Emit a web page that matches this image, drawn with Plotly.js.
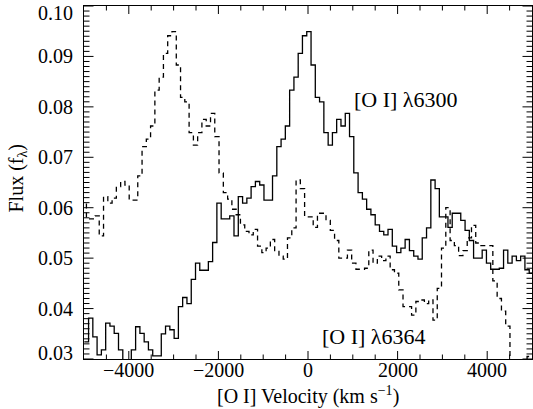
<!DOCTYPE html>
<html>
<head>
<meta charset="utf-8">
<script src="https://cdn.plot.ly/plotly-3.0.1.min.js"></script>
<style>
  html, body { margin: 0; padding: 0; background: #fff; }
  #plot { width: 533px; height: 409px; }
</style>
</head>
<body>
<div id="plot"></div>
<script>
// Left edges of the spectral bins, in km/s relative to [O I] 6300.
const binEdgeVelocity = [
  -4994, -4898, -4803, -4708, -4612, -4516, -4421, -4326, -4230, -4134,
  -4039, -3944, -3848, -3752, -3657, -3562, -3466, -3370, -3275, -3180,
  -3084, -2988, -2893, -2798, -2702, -2606, -2511, -2416, -2320, -2224,
  -2129, -2034, -1938, -1842, -1747, -1652, -1556, -1460, -1365, -1270,
  -1174, -1078, -983, -888, -792, -696, -601, -506, -410, -314,
  -219, -124, -28, 68, 163, 258, 354, 450, 545, 640,
  736, 832, 927, 1022, 1118, 1214, 1309, 1404, 1500, 1596,
  1691, 1786, 1882, 1978, 2073, 2168, 2264, 2360, 2455, 2550,
  2646, 2742, 2837, 2932, 3028, 3124, 3219, 3314, 3410, 3506,
  3601, 3696, 3792, 3888, 3983, 4078, 4174, 4270, 4365, 4460,
  4556, 4652, 4747, 4842, 4938, 5034, 5129, 5224, 5320, 5416,
  5511, 5606, 5702, 5798, 5893, 5988, 6084, 6180, 6275, 6370,
  6466, 6562, 6657, 6752, 6848, 6944, 7039, 7134, 7230, 7326,
  7421, 7516, 7612, 7708, 7803, 7898, 7994
];
const binEndVelocity = 8090;

// Flux density f_lambda in each bin.
const flux = [
  0.0334, 0.0381, 0.0344, 0.0308, 0.0318, 0.0371, 0.0365, 0.0351, 0.0318, 0.0290,
  0.0292, 0.0318, 0.0364, 0.0351, 0.0334, 0.0318, 0.0306, 0.0306, 0.0350, 0.0365,
  0.0358, 0.0341, 0.0404, 0.0422, 0.0410, 0.0458, 0.0490, 0.0476, 0.0476, 0.0493,
  0.0531, 0.0609, 0.0578, 0.0578, 0.0584, 0.0544, 0.0622, 0.0609, 0.0619, 0.0642,
  0.0652, 0.0645, 0.0615, 0.0615, 0.0663, 0.0721, 0.0736, 0.0762, 0.0833, 0.0859,
  0.0906, 0.0941, 0.0949, 0.0883, 0.0819, 0.0810, 0.0749, 0.0724, 0.0749, 0.0775,
  0.0762, 0.0787, 0.0741, 0.0669, 0.0630, 0.0617, 0.0597, 0.0586, 0.0566, 0.0553,
  0.0546, 0.0557, 0.0524, 0.0511, 0.0520, 0.0537, 0.0515, 0.0504, 0.0498, 0.0540,
  0.0560, 0.0655, 0.0638, 0.0582, 0.0582, 0.0561, 0.0589, 0.0589, 0.0575, 0.0555,
  0.0535, 0.0500, 0.0500, 0.0516, 0.0490, 0.0478, 0.0478, 0.0480, 0.0516, 0.0490,
  0.0504, 0.0495, 0.0504, 0.0477, 0.0470, 0.0437, 0.0404, 0.0404, 0.0387, 0.0414,
  0.0417, 0.0410, 0.0417, 0.0377, 0.0440, 0.0520, 0.0600, 0.0535, 0.0525, 0.0505,
  0.0515, 0.0540, 0.0565, 0.0530, 0.0525, 0.0525, 0.0525, 0.0455, 0.0420, 0.0395,
  0.0365, 0.0280, 0.0280, 0.0280, 0.0290, 0.0305, 0.0305
];

// Velocity offset between the two lines of the doublet (km/s).
const doubletSeparation = 3008;

const xRange = [-5000, 5000];
const yRange = [0.03, 0.10];
const xTicks = [-4000, -2000, 0, 2000, 4000];
const xMinorStep = 500;
const yTicks = [0.03, 0.04, 0.05, 0.06, 0.07, 0.08, 0.09, 0.10];
const yMinorStep = 0.001;

const serif = 'Liberation Serif';
const black = '#000';

const W = 533, H = 409;
const margin = { l: 84, r: 1, t: 6, b: 50 };
const plotW = W - margin.l - margin.r;
const plotH = H - margin.t - margin.b;
// Data units per screen pixel, used to size the tick marks.
const xPerPx = (xRange[1] - xRange[0]) / plotW;
const yPerPx = (yRange[1] - yRange[0]) / plotH;

// Close the last bin so the step histogram runs to its right edge.
const v6300 = binEdgeVelocity.concat([binEndVelocity]);
const fluxSteps = flux.concat([flux[flux.length - 1]]);
const v6364 = v6300.map(v => v - doubletSeparation);

// Inward tick marks on all four sides of the frame, as broken line segments.
const tickX = [], tickY = [];
function segment(x0, x1, y0, y1) {
  tickX.push(x0, x1, null);
  tickY.push(y0, y1, null);
}
function xTick(v, lenPx) {
  const d = lenPx * yPerPx;
  segment(v, v, yRange[0], yRange[0] + d);
  segment(v, v, yRange[1], yRange[1] - d);
}
function yTick(v, lenPx) {
  const d = lenPx * xPerPx;
  segment(xRange[0], xRange[0] + d, v, v);
  segment(xRange[1], xRange[1] - d, v, v);
}
xTicks.forEach(v => xTick(v, 8));
for (let v = xRange[0] + xMinorStep; v < xRange[1]; v += xMinorStep) {
  if (!xTicks.includes(v)) xTick(v, 4.5);
}
yTicks.forEach(v => yTick(v, 9.5));
const yMinorCount = Math.round((yRange[1] - yRange[0]) / yMinorStep);
for (let i = 1; i < yMinorCount; i++) {
  const v = +(yRange[0] + i * yMinorStep).toFixed(4);
  if (!yTicks.some(t => Math.abs(t - v) < 1e-9)) yTick(v, 5.5);
}

const traces = [
  {
    x: v6300, y: fluxSteps, type: 'scatter', mode: 'lines', name: '[O I] 6300',
    line: { shape: 'hv', color: black, width: 1.3 },
    hoverinfo: 'skip', showlegend: false
  },
  {
    x: v6364, y: fluxSteps, type: 'scatter', mode: 'lines', name: '[O I] 6364',
    line: { shape: 'hv', color: black, width: 1.3, dash: '5px,4px' },
    hoverinfo: 'skip', showlegend: false
  },
  {
    x: tickX, y: tickY, type: 'scatter', mode: 'lines', name: 'ticks',
    line: { color: black, width: 1 }, connectgaps: false,
    hoverinfo: 'skip', showlegend: false
  }
];

// Tick labels, axis titles and line labels.
const labelFont = { family: serif, size: 20, color: black };
const annotations = [];
xTicks.forEach(v => annotations.push({
  text: (v < 0 ? '\u2212' : '') + Math.abs(v),
  xref: 'x', x: v, xanchor: 'center',
  yref: 'paper', y: 0, yanchor: 'middle', yshift: -11,
  showarrow: false, font: labelFont
}));
yTicks.forEach((v, i) => annotations.push({
  text: v.toFixed(2),
  xref: 'paper', x: 0, xanchor: 'right', xshift: -9,
  yref: 'y', y: v, yanchor: 'middle',
  // keep the end labels level with the frame
  yshift: i === 0 ? 6 : (i === yTicks.length - 1 ? -7 : 0),
  showarrow: false, font: labelFont
}));
annotations.push(
  { text: '[O I] Velocity (km s<sup>\u22121</sup>)', xref: 'paper', x: 0.5, xanchor: 'center',
    yref: 'paper', y: 0, yanchor: 'middle', yshift: -36, showarrow: false, font: labelFont },
  { text: 'Flux (f<sub>\u03bb</sub>)', textangle: -90, xref: 'paper', x: 0, xanchor: 'center', xshift: -67,
    yref: 'paper', y: 0.5, yanchor: 'middle', yshift: 4, showarrow: false, font: labelFont },
  { text: '[O I] \u03bb6300', xref: 'paper', x: 0.719, y: 0.7365, yref: 'paper',
    xanchor: 'center', yanchor: 'middle', showarrow: false,
    font: { family: serif, size: 22, color: black } },
  { text: '[O I] \u03bb6364', xref: 'paper', x: 0.647, y: 0.065, yref: 'paper',
    xanchor: 'center', yanchor: 'middle', showarrow: false,
    font: { family: serif, size: 22, color: black } }
);

const frame = {
  showgrid: false, zeroline: false, showline: true, mirror: true,
  linecolor: black, linewidth: 1.3, ticks: '', showticklabels: false
};

const layout = {
  width: W, height: H,
  margin: margin,
  paper_bgcolor: '#fff', plot_bgcolor: '#fff',
  font: { family: serif, size: 20, color: black },
  xaxis: Object.assign({ range: xRange }, frame),
  yaxis: Object.assign({ range: yRange }, frame),
  annotations: annotations
};

Plotly.newPlot('plot', traces, layout, { displayModeBar: false });
</script>
</body>
</html>
